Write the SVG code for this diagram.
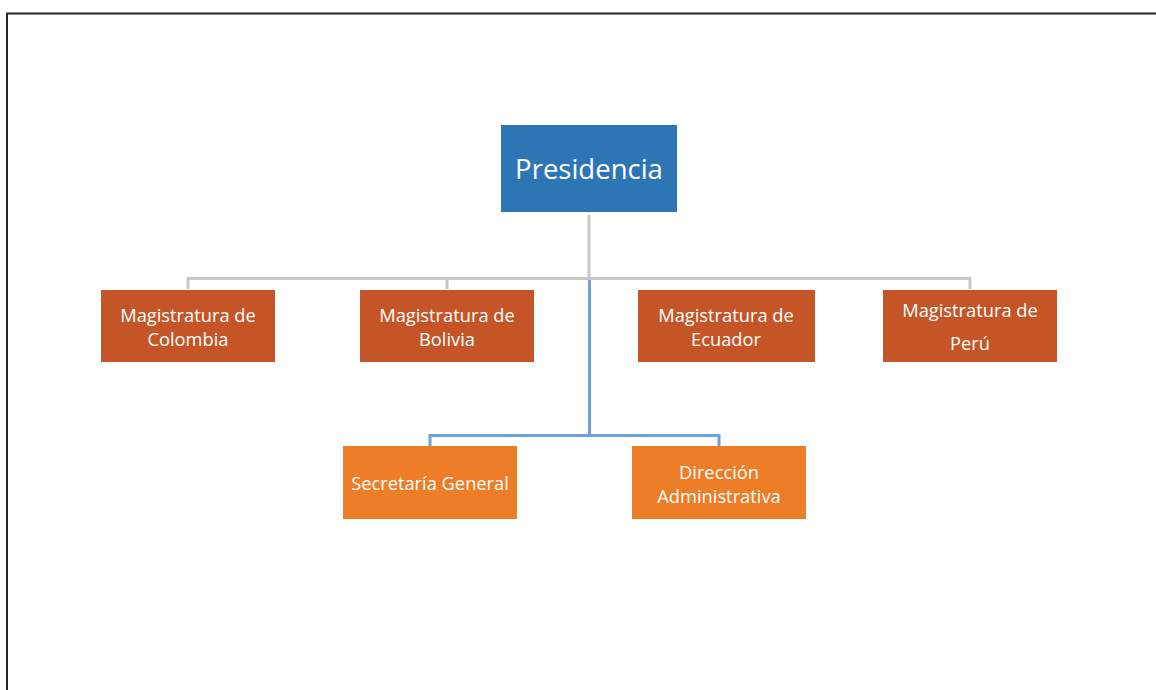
<svg xmlns="http://www.w3.org/2000/svg" width="1156" height="690" viewBox="0 0 1156 690">
<style>
.t{font-family:"Open Sans","Noto Sans",sans-serif;fill:#ffffff;text-anchor:middle;dominant-baseline:central}
.m{font-size:18.3px}
.gray{stroke:#C6C7C9;stroke-width:3;fill:none}
.blue{stroke:#6FA1D6;stroke-width:3;fill:none}
</style>
<rect x="0" y="0" width="1156" height="690" fill="#ffffff"/>
<path d="M7 690 V13.5 H1156" fill="none" stroke="#262626" stroke-width="2"/>
<g id="connectors">
<path class="gray" d="M589 215 V278.5 M188 289 V278.5 H970 V289 M447 278.5 V289"/>
<path class="blue" d="M589.5 280 V435.5 M430 446 V435.5 H719 V446"/>
</g>
<g id="presidencia"><rect x="501" y="125" width="176" height="87" fill="#2E75B6"/><text class="t" x="589" y="168" font-size="27.5">Presidencia</text></g>
<g id="colombia"><rect x="101" y="290" width="174" height="72" fill="#C55527"/><text class="t m" x="188" y="314">Magistratura de</text><text class="t m" x="188" y="338">Colombia</text></g>
<g id="bolivia"><rect x="360" y="290" width="174" height="72" fill="#C55527"/><text class="t m" x="447" y="314">Magistratura de</text><text class="t m" x="447" y="338">Bolivia</text></g>
<g id="ecuador"><rect x="638" y="290" width="177" height="72" fill="#C55527"/><text class="t m" x="726" y="314">Magistratura de</text><text class="t m" x="726" y="338">Ecuador</text></g>
<g id="peru"><rect x="883" y="290" width="174" height="72" fill="#C55527"/><text class="t m" x="970" y="309">Magistratura de</text><text class="t m" x="970" y="342">Perú</text></g>
<g id="secretaria"><rect x="343" y="446" width="174" height="73" fill="#ED7D27"/><text class="t m" x="430" y="482">Secretaría General</text></g>
<g id="direccion"><rect x="632" y="446" width="174" height="73" fill="#ED7D27"/><text class="t m" x="719" y="471">Dirección</text><text class="t m" x="719" y="495">Administrativa</text></g>
</svg>
